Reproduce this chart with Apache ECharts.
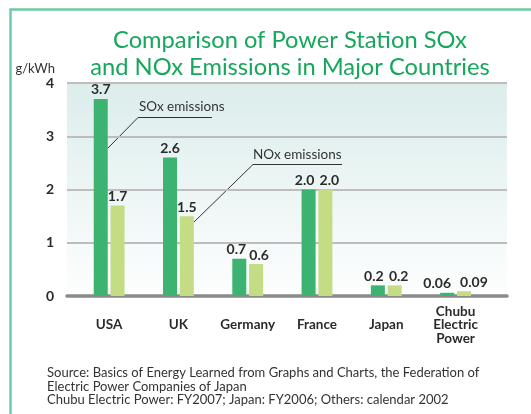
<!DOCTYPE html>
<html>
<head>
<meta charset="utf-8">
<script src="https://cdn.jsdelivr.net/npm/echarts@6/dist/echarts.min.js"></script>
<style>
  html, body { margin: 0; padding: 0; background: #fff; }
  #chart { width: 531px; height: 414px; }
</style>
</head>
<body>
<div id="chart"></div>
<script>
// Emission intensity by country, g/kWh
const categories = ['USA', 'UK', 'Germany', 'France', 'Japan', 'Chubu\nElectric\nPower'];
const soxValues = [3.7, 2.6, 0.7, 2.0, 0.2, 0.06];
const noxValues = [1.7, 1.5, 0.6, 2.0, 0.2, 0.09];
const yTicks = [0, 1, 2, 3, 4];
const seriesNames = ['SOx emissions', 'NOx emissions'];
const sourceLines = [
  'Source: Basics of Energy Learned from Graphs and Charts, the Federation of',
  'Electric Power Companies of Japan',
  'Chubu Electric Power: FY2007; Japan: FY2006; Others: calendar 2002'
];

const chart = echarts.init(document.getElementById('chart'), null, { renderer: 'canvas' });

const FONT = 'Lato';
const INK = '#2b2b2b';
const plotTop = 83, plotBottom = 118;

// nudge value labels apart where the two bars of a pair sit close together
const labelSpread = [0, 0, 3, 4, 4, 10];
const fmt = v => (v === 2 ? '2.0' : String(v));
const makeData = (values, dir) => values.map((v, i) => ({
  value: v,
  label: { offset: [dir * labelSpread[i], 0] }
}));

const valueLabel = {
  show: true, position: 'top', distance: 2, color: INK, fontWeight: 'bold',
  fontSize: 14, fontFamily: FONT, formatter: p => fmt(p.value)
};

chart.setOption({
  animation: false,
  title: {
    text: 'Comparison of Power Station SOx\nand NOx Emissions in Major Countries',
    left: 285, top: 22, textAlign: 'center',
    textStyle: { color: '#17a75c', fontSize: 23.7, fontWeight: 'normal', fontFamily: FONT, lineHeight: 27 }
  },
  grid: [
    { left: 67, right: 24, top: plotTop, bottom: plotBottom, show: true, borderWidth: 0,
      backgroundColor: new echarts.graphic.LinearGradient(0, 0, 0, 1, [
        { offset: 0, color: '#dcedec' }, { offset: 1, color: '#fdfefe' }]) },
    { left: 74.5, right: 40.8, top: plotTop, bottom: plotBottom }
  ],
  xAxis: [
    { gridIndex: 0, type: 'value', min: 0, max: 1,
      axisLine: { show: true, lineStyle: { color: '#8a8a8a', width: 3.5 } },
      axisTick: { show: false }, axisLabel: { show: false }, splitLine: { show: false } },
    { gridIndex: 1, type: 'category', data: categories,
      axisLine: { show: false }, axisTick: { show: false },
      axisLabel: { interval: 0, color: INK, fontWeight: 'bold', fontSize: 13.5, fontFamily: FONT,
        lineHeight: 13.3, verticalAlign: 'middle', margin: 29 } }
  ],
  yAxis: [
    { gridIndex: 0, type: 'value', min: yTicks[0], max: yTicks[yTicks.length - 1], interval: 1,
      name: 'g/kWh', nameGap: 8,
      nameTextStyle: { color: '#333', fontSize: 13, fontFamily: FONT, align: 'right', padding: [0, 12, 0, 0] },
      axisLine: { show: false }, axisTick: { show: false },
      axisLabel: { color: INK, fontWeight: 'bold', fontSize: 14, fontFamily: FONT, margin: 13 },
      splitLine: { lineStyle: { color: '#bdbdbd', width: 2 } } },
    { gridIndex: 1, type: 'value', min: 0, max: 4, show: false, splitLine: { show: false } }
  ],
  series: [
    { name: seriesNames[0], type: 'bar', xAxisIndex: 1, yAxisIndex: 1, data: makeData(soxValues, -1),
      barWidth: 14, barGap: '20%', itemStyle: { color: '#3cb371' }, label: valueLabel },
    { name: seriesNames[1], type: 'bar', xAxisIndex: 1, yAxisIndex: 1, data: makeData(noxValues, 1),
      barWidth: 14, itemStyle: { color: '#c4dc84' }, label: valueLabel }
  ],
  graphic: [
    // frame
    { type: 'polyline', shape: { points: [[10.5, 414], [10.5, 9.5], [531, 9.5]] },
      style: { stroke: '#6dcca3', lineWidth: 2.5, fill: null } },
    // series callouts
    { type: 'text', left: 139, top: 100, style: { text: seriesNames[0], fontSize: 13.5, fontFamily: FONT, fill: '#333' } },
    { type: 'polyline', shape: { points: [[108, 148], [138, 117.5], [212, 117.5]] },
      style: { stroke: '#333', lineWidth: 1, fill: null } },
    { type: 'text', left: 253, top: 148, style: { text: seriesNames[1], fontSize: 13.5, fontFamily: FONT, fill: '#333' } },
    { type: 'polyline', shape: { points: [[194, 222], [253, 164.5], [342, 164.5]] },
      style: { stroke: '#333', lineWidth: 1, fill: null } },
    // source note
    { type: 'text', left: 47, top: 366, style: { text: sourceLines.join('\n'), fontSize: 13, lineHeight: 13.7,
      fontFamily: FONT, fill: '#333' } }
  ]
});
</script>
</body>
</html>
